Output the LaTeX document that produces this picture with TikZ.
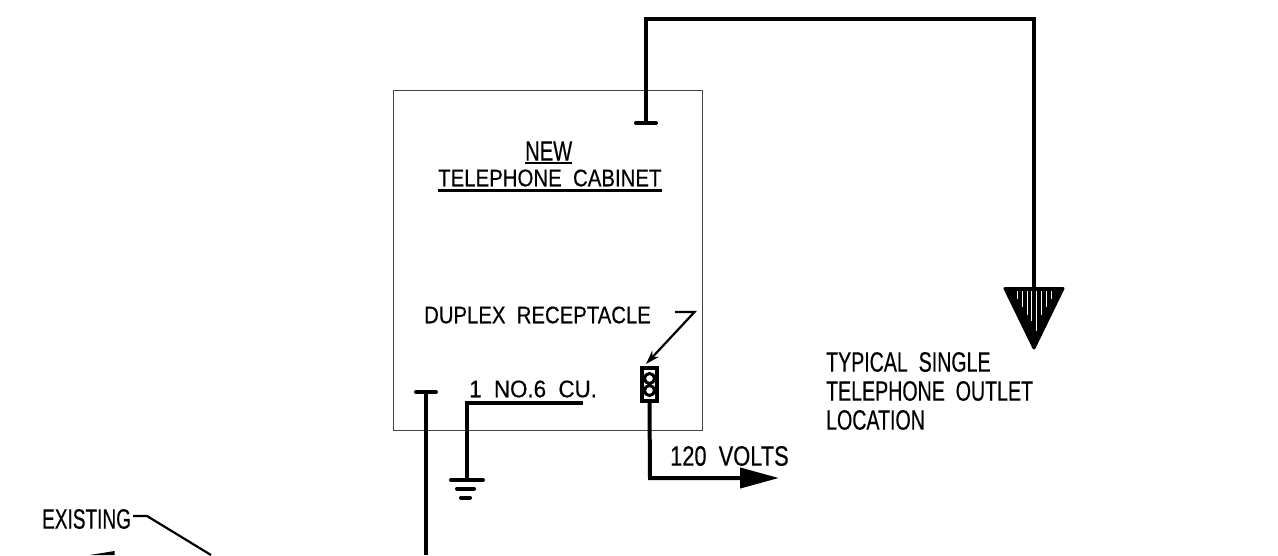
\documentclass[tikz,border=0pt]{standalone}
\usepackage{fontspec}
\setmainfont[FakeBold=0.5]{Liberation Sans}
\usetikzlibrary{arrows.meta}
\definecolor{boxGray}{RGB}{70,70,70}
\tikzset{
    cadtext/.style={anchor=west, inner sep=0pt, font=\fontsize{24}{29}\selectfont, align=left},
    cadbig/.style={cadtext, font=\fontsize{28}{29}\selectfont},
    cabinet/.style={rectangle, draw=boxGray, line width=1pt, minimum width=309pt, minimum height=340pt, inner sep=0pt},
    wire/.style={line width=4pt, line join=miter},
    bar/.style={line width=4pt, line cap=round},
    leader/.style={line width=2.2pt},
    socket/.style={rectangle, draw, line width=3.4pt, minimum width=15pt, minimum height=33pt, inner sep=0pt}
}
\begin{document}
\begin{tikzpicture}[x=1pt,y=-1pt]
  \useasboundingbox (0,0) rectangle (1278,555);
  \clip (0,0) rectangle (1278,555);

  % cabinet
  \node[cabinet] (cab) at (548,260) {};
  \node[socket] (rec) at (649.5,384.5) {};
  \draw[line width=3pt] (649.5,378.5) circle (5pt) (649.5,390.5) circle (5pt);

  % labels
  \node[cadbig, xscale=0.72] (lblNew) at (525,151) {NEW};
  \node[cadtext, xscale=0.85] (lblCab) at (438,178) {TELEPHONE\ \ CABINET};
  \node[cadtext, xscale=0.847] (lblDup) at (424,315) {DUPLEX\ \ RECEPTACLE};
  \node[cadtext, xscale=0.93] (lblNo) at (469,389) {1\ \ NO.6\ \ CU.};
  \node[cadbig, xscale=0.78] (lblVolts) at (670,456) {120\ \ VOLTS};
  \node[cadbig, xscale=0.70] (lblOutlet) at (826,391) {TYPICAL\ \ SINGLE\\TELEPHONE\ \ OUTLET\\LOCATION};
  \node[cadbig, xscale=0.68] (lblExist) at (42,519) {EXISTING};

  % underlines
  \draw[line width=2pt] (lblNew.south west |- 0,163) -- (lblNew.south east |- 0,163);
  \draw[line width=3pt] (lblCab.south west |- 0,190) -- (lblCab.south east |- 0,190);

  % telephone run to the outlet
  \coordinate (telEnd) at (645.5,123);
  \coordinate (telTop) at (645.5,19);
  \coordinate (outTop) at (1033.5,19);
  \coordinate (outTip) at (1034,348);
  \coordinate (outL) at (1005,288.5);
  \coordinate (outR) at (1063,288.5);
  \draw[wire] (telEnd) -- (telTop) -- (outTop) -- (outL -| outTop);
  \draw[bar] (636,123) -- (656,123);

  % outlet triangle
  \draw[fill=black, line width=3pt, line join=round] (outL) -- (outR) -- (outTip) -- cycle;
  \foreach \sx/\sl in {-17/8,-12/16,-7/24,-3/30,2/40,7/24,12/16,17/8}
    \draw[white, line width=0.9pt] (1034+\sx,291) -- ++(0,\sl);

  % incoming line
  \coordinate (feedTop) at (426,392);
  \coordinate (feedEnd) at (426,555);
  \draw[wire] (feedTop) -- (feedEnd);
  \draw[bar] (416,392) -- (436,392);

  % ground wire
  \coordinate (gndStart) at (583,403);
  \coordinate (gndCorner) at (467,403);
  \coordinate (gnd) at (467,480);
  \draw[wire] (gndStart) -- (gndCorner) -- (gnd);
  \draw[bar] (451,480) -- (483,480);
  \draw[bar] (457,488.5) -- (474,488.5);
  \draw[bar] (461,497.5) -- (470,497.5);

  % 120 volts feed
  \coordinate (voltCorner) at (650,478);
  \coordinate (voltTip) at (779,478);
  \draw[wire, -{Triangle[length=39pt,width=20pt]}] (rec.south) -- (voltCorner) -- (voltTip);

  % leaders
  \coordinate (dupA) at (675,312);
  \coordinate (dupB) at (694.5,312);
  \draw[leader, -{Stealth[length=14pt,width=9pt]}] (dupA) -- (dupB) -- (646,364);
  \coordinate (existA) at (133,516);
  \coordinate (existB) at (147,516);
  \coordinate (existC) at (211,555);
  \draw[leader] (existA) -- (existB) -- (existC);

  % clipped arrow head at the lower edge
  \coordinate (headTip) at (90,555);
  \fill (headTip) -- (114.5,551) -- (114.5,555) -- cycle;
\end{tikzpicture}
\end{document}
